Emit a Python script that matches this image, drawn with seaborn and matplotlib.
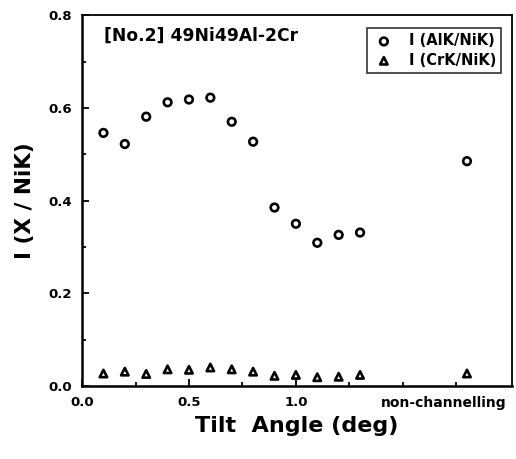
import numpy as np
import pandas as pd
import matplotlib
matplotlib.use("Agg")
import matplotlib.pyplot as plt
from matplotlib.ticker import MultipleLocator, FixedLocator
from matplotlib.transforms import blended_transform_factory
import seaborn as sns

# Tilt angles (deg); the last position stands for the non-channelling condition
tilt = [0.1, 0.2, 0.3, 0.4, 0.5, 0.6, 0.7, 0.8, 0.9, 1.0, 1.1, 1.2, 1.3, 1.8]
al_ni = [0.546, 0.522, 0.581, 0.612, 0.618, 0.622, 0.570, 0.527,
         0.385, 0.350, 0.309, 0.326, 0.331, 0.485]
cr_ni = [0.027, 0.031, 0.026, 0.036, 0.035, 0.040, 0.036, 0.031,
         0.022, 0.024, 0.019, 0.020, 0.024, 0.027]
series_names = ["I (AlK/NiK)", "I (CrK/NiK)"]
x_tick_values = [0.0, 0.5, 1.0]
x_tick_labels = ["0.0", "0.5", "1.0"]
y_tick_values = [0.0, 0.2, 0.4, 0.6, 0.8]
noncha_label = "non-channelling"
noncha_label_pos = 1.69

df = pd.DataFrame({
    "tilt": tilt * 2,
    "ratio": al_ni + cr_ni,
    "series": [series_names[0]] * len(tilt) + [series_names[1]] * len(tilt),
})

sns.set_theme(style="ticks")
plt.rcParams["font.family"] = ["DejaVu Sans"]
plt.rcParams["font.weight"] = "bold"
plt.rcParams["text.color"] = "black"
plt.rcParams["axes.labelcolor"] = "black"
plt.rcParams["xtick.color"] = "black"
plt.rcParams["ytick.color"] = "black"

fig = plt.figure(figsize=(5.16, 4.59), dpi=100)
ax = fig.add_axes([0.159, 0.159, 0.833, 0.808])

for name, mk, size in zip(series_names, ["o", "^"], [30, 28]):
    sub = df[df["series"] == name]
    sns.scatterplot(data=sub, x="tilt", y="ratio", ax=ax, marker=mk, s=size,
                    facecolors="none", edgecolors="black", linewidths=1.9,
                    label=name)

ax.set_xlim(0.0, 2.01)
ax.set_ylim(0.0, 0.8)
ax.xaxis.set_major_locator(FixedLocator(x_tick_values))
ax.set_xticklabels(x_tick_labels)
ax.xaxis.set_minor_locator(FixedLocator([0.25, 0.75, 1.25, 1.5, 1.75]))
ax.yaxis.set_major_locator(FixedLocator(y_tick_values))
ax.yaxis.set_minor_locator(MultipleLocator(0.1))
ax.set_yticklabels([f"{v:.1f}" for v in y_tick_values])

ax.tick_params(which="both", direction="in", colors="black", labelcolor="black",
               labelsize=9.5, width=1.3)
ax.tick_params(which="major", length=5, pad=7)
ax.tick_params(which="minor", length=3)
for lbl in ax.get_xticklabels() + ax.get_yticklabels():
    lbl.set_fontweight("bold")
for sp in ax.spines.values():
    sp.set_visible(True)
    sp.set_color("black")
    sp.set_linewidth(1.3)
ax.spines["left"].set_linewidth(1.8)
ax.spines["bottom"].set_linewidth(1.8)

trans = blended_transform_factory(ax.transData, ax.transAxes)
ax.text(noncha_label_pos, -0.027, noncha_label, transform=trans, ha="center",
        va="top", fontsize=10, fontweight="bold", color="black")

ax.set_xlabel("Tilt  Angle (deg)", fontsize=16, fontweight="bold", labelpad=5,
              color="black")
ax.set_ylabel("I (X / NiK)", fontsize=15.5, fontweight="bold", labelpad=10,
              color="black")

ax.text(0.05, 0.945, "[No.2] 49Ni49Al-2Cr", transform=ax.transAxes,
        ha="left", va="center", fontsize=12.3, fontweight="bold", color="black")

leg = ax.legend(loc="upper right", bbox_to_anchor=(0.975, 0.965), frameon=True,
                fancybox=False, prop={"weight": "bold", "size": 10.5},
                handletextpad=0.9, borderpad=0.35, labelspacing=0.3,
                handlelength=1.6, borderaxespad=0.0)
leg.get_frame().set_edgecolor("black")
leg.get_frame().set_linewidth(1.2)
for t in leg.get_texts():
    t.set_color("black")

fig.savefig("out.png", dpi=100)
